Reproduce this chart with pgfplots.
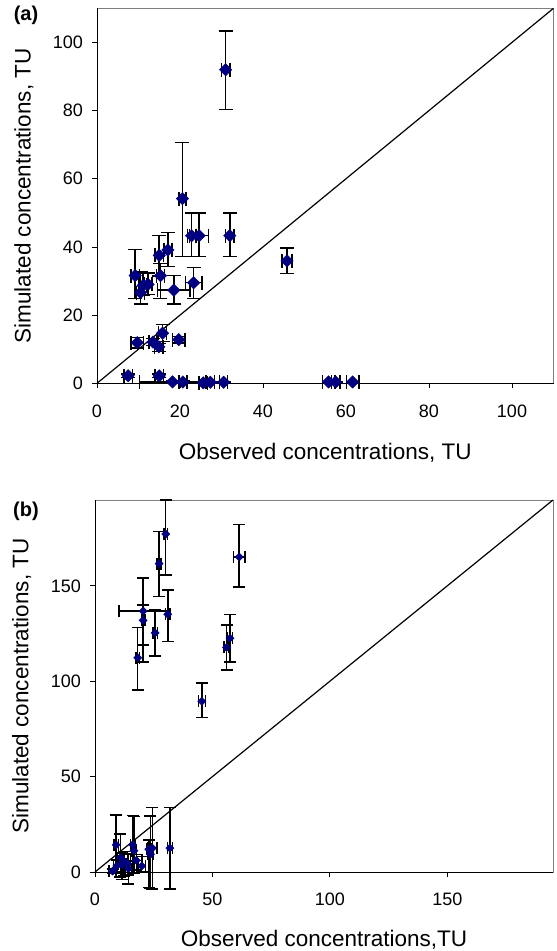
\documentclass[border=0pt]{standalone}
\usepackage{fontspec}
\setmainfont{Liberation Sans}
\usepackage{pgfplots}
\pgfplotsset{compat=1.18}
\usepackage{pgfplotstable}
\definecolor{navy}{RGB}{0,0,128}
\definecolor{boxgray}{RGB}{128,128,128}

\pgfplotstableread{
x y ex eyp eym
31.0 92.0 1.0 11.3 11.7
20.6 54.2 0.8 16.5 17.0
22.8 43.3 1.0 6.6 6.1
24.6 43.3 2.3 6.6 6.1
32.0 43.3 1.0 6.6 6.1
45.8 35.9 1.2 3.8 3.7
9.2 31.6 1.0 7.6 6.8
15.0 37.5 1.0 5.9 6.0
17.1 39.1 1.0 5.2 4.8
15.3 31.6 1.0 3.5 6.8
18.5 27.3 3.9 4.3 4.1
23.3 29.5 2.0 4.4 4.7
10.5 26.6 1.0 6.0 3.4
11.1 28.7 1.0 3.5 3.0
12.3 29.0 1.0 3.3 3.0
9.7 11.9 1.5 1.5 1.5
13.5 12.1 1.0 1.0 1.0
14.9 10.7 1.0 1.0 1.3
15.8 14.7 1.0 2.5 2.5
19.7 12.8 1.5 1.0 1.0
7.5 2.2 1.0 0.5 0.5
15.0 2.2 1.0 0.5 0.5
18.2 0.4 8.0 0.3 0.3
20.7 0.4 1.0 0.3 0.3
25.6 0.1 1.0 0.2 0.2
27.3 0.3 1.0 0.2 0.2
30.5 0.3 1.0 0.2 0.2
55.8 0.4 1.5 0.2 0.2
57.5 0.4 1.0 0.2 0.2
61.6 0.4 1.5 0.2 0.2
}\dataA

\pgfplotstableread{
x y ex eyp eym
30.1 177.2 0.8 17.8 21.6
27.3 161.6 0.8 17.0 17.2
61.4 165.1 2.4 17.0 15.8
20.5 136.8 10.3 17.2 17.8
20.5 131.9 0.8 8.0 21.9
31.0 135.1 1.0 12.8 14.4
25.6 125.4 1.0 12.0 12.2
18.2 112.3 0.8 15.9 17.0
57.5 122.5 1.0 12.6 12.3
56.0 117.7 1.0 11.8 11.9
45.5 89.5 1.5 9.6 8.6
31.9 12.5 1.0 21.4 21.4
24.4 12.5 2.0 21.4 21.4
22.9 11.9 1.0 5.0 20.0
23.6 9.3 1.0 20.0 18.0
9.0 14.2 1.0 15.8 15.0
16.1 14.2 1.0 15.3 15.0
16.6 11.1 1.0 18.0 12.0
10.8 7.5 1.5 12.3 10.0
12.3 5.8 2.0 5.0 8.0
13.9 4.4 2.0 5.0 6.0
17.6 6.1 2.5 3.0 5.0
19.9 3.2 1.5 5.0 3.0
7.5 0.5 1.5 1.0 1.0
9.3 3.2 1.5 3.0 3.0
14.2 1.8 1.5 4.0 8.0
11.6 4.0 1.5 6.0 8.0
}\dataB

\pgfplotsset{
  myaxis/.style={
    scale only axis,
    anchor=south west,
    clip=false,
    axis line style={boxgray, line width=0.9pt},
    xtick pos=left, ytick pos=left,
    tick align=outside,
    major tick length=5pt,
    tick style={black, line width=0.8pt},
    /pgf/number format/assume math mode=true,
    tick label style={font=\fontsize{18}{20}\selectfont},
    label style={font=\fontsize{22.5}{25}\selectfont},
    xticklabel style={inner sep=0pt, anchor=north, yshift=-16pt},
    yticklabel style={inner sep=0pt, anchor=east, xshift=-9pt},
  },
}

\begin{document}
\begin{tikzpicture}[x=1pt,y=1pt]
\useasboundingbox (0,0) rectangle (557,951);
% panel (a)
\begin{axis}[myaxis,
  at={(97pt,567.7pt)}, width=456.5pt, height=375pt,
  xmin=0, xmax=110, ymin=0, ymax=110,
  xtick={0,20,...,100}, ytick={0,20,...,100},
  xlabel={Observed concentrations, TU},
  ylabel={Simulated concentrations, TU},
  x label style={at={(axis description cs:0.5,-0.184)}, anchor=center},
  y label style={at={(axis description cs:-0.16,0.5)}, anchor=center},
]
\draw[black, line width=0.9pt] (rel axis cs:0,1) -- (rel axis cs:0,0) -- (rel axis cs:1,0);
\addplot[black, line width=1.2pt, mark=none] coordinates {(0,0) (110,110)};
\addplot[only marks, mark=square*, mark size=4.4pt,
  mark options={rotate=45, fill=navy, draw=navy},
  error bars/.cd, x dir=both, x explicit, y dir=both, y explicit,
  error bar style={black, line width=1.5pt},
  error mark options={rotate=90, black, mark size=7pt, line width=1.5pt}]
  table[x=x, y=y, x error=ex, y error plus=eyp, y error minus=eym]{\dataA};
\end{axis}
\node[font=\bfseries\fontsize{20}{22}\selectfont] at (26,936) {(a)};
% panel (b)
\begin{axis}[myaxis,
  at={(95pt,79pt)}, width=458pt, height=372pt,
  xmin=0, xmax=195, ymin=0, ymax=195,
  xtick={0,50,...,150}, ytick={0,50,...,150},
  xlabel={Observed concentrations,TU},
  ylabel={Simulated concentrations, TU},
  x label style={at={(axis description cs:0.5,-0.183)}, anchor=center},
  y label style={at={(axis description cs:-0.16,0.5)}, anchor=center},
]
\draw[black, line width=0.9pt] (rel axis cs:0,1) -- (rel axis cs:0,0) -- (rel axis cs:1,0);
\addplot[black, line width=1.2pt, mark=none] coordinates {(0,0) (195,195)};
\addplot[only marks, mark=square*, mark size=2.9pt,
  mark options={rotate=45, fill=navy, draw=navy},
  error bars/.cd, x dir=both, x explicit, y dir=both, y explicit,
  error bar style={black, line width=1.5pt},
  error mark options={rotate=90, black, mark size=6pt, line width=1.5pt}]
  table[x=x, y=y, x error=ex, y error plus=eyp, y error minus=eym]{\dataB};
\end{axis}
\node[font=\bfseries\fontsize{20}{22}\selectfont] at (26,440) {(b)};
\end{tikzpicture}
\end{document}
